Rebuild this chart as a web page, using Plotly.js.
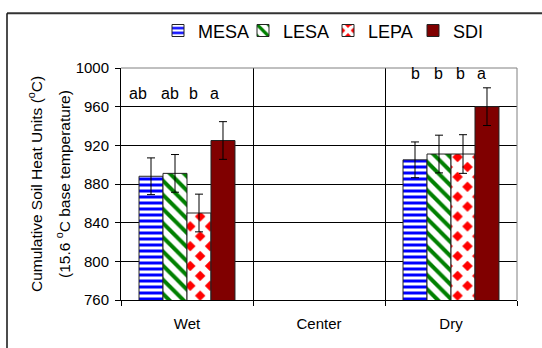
<!DOCTYPE html>
<html>
<head>
<meta charset="utf-8">
<script src="https://cdn.plot.ly/plotly-3.0.1.min.js"></script>
<style>
  html, body { margin: 0; padding: 0; background: #fff; }
  #chart { width: 542px; height: 348px; }
</style>
</head>
<body>
<div id="chart"></div>
<script>
// ---- data ----
var categories = ['Wet', 'Center', 'Dry'];
var seriesNames = ['MESA', 'LESA', 'LEPA', 'SDI'];
var mesaValues = [888, null, 905];
var lesaValues = [891, null, 911];
var lepaValues = [850, null, 911];
var sdiValues  = [925, null, 960];
var mesaErrors = [19, null, 18.5];
var lesaErrors = [19.5, null, 19.5];
var lepaErrors = [19.5, null, 20];
var sdiErrors  = [19.5, null, 19.5];
var lettersWet = ['ab', 'ab', 'b', 'a'];
var lettersDry = ['b', 'b', 'b', 'a'];
var yTickValues = [760, 800, 840, 880, 920, 960, 1000];

// ---- layout constants ----
var W = 542, H = 348;
var M = {l: 121, r: 25, t: 63, b: 48};
var pw = W - M.l - M.r, ph = H - M.t - M.b;
function px2x(p) { return (p - M.l) / pw; }
function px2y(p) { return (H - M.b - p) / ph; }
var bargap = 0.273;
var FONT = 'Arial, "Liberation Sans", sans-serif';

var values = [mesaValues, lesaValues, lepaValues, sdiValues];
var errors = [mesaErrors, lesaErrors, lepaErrors, sdiErrors];
var fills = [
  {color: '#0000ff', pattern: {shape: '-', fgcolor: '#0000ff', bgcolor: '#ffffff', size: 6, solidity: 0.5}},
  {color: '#008000', pattern: {shape: '\\', fgcolor: '#008000', bgcolor: '#ffffff', size: 10, solidity: 0.4}},
  {color: '#ff0000', pattern: {shape: 'x', fgcolor: '#ffffff', bgcolor: '#ff0000', size: 14, solidity: 0.72}},
  {color: '#800000', pattern: null}
];

var traces = seriesNames.map(function (name, i) {
  var marker = {color: fills[i].color, line: {color: '#222222', width: 1}};
  if (fills[i].pattern) marker.pattern = fills[i].pattern;
  return {
    type: 'bar',
    name: name,
    x: categories,
    y: values[i],
    marker: marker,
    error_y: {type: 'data', array: errors[i], visible: true, color: '#000000', thickness: 1, width: 4}
  };
});

// letter annotations placed over bars
var groupW = 1 - bargap, barW = groupW / seriesNames.length;
function barCenter(catIdx, i) { return catIdx - groupW / 2 + barW * (i + 0.5); }
var letterGroups = [
  {cat: 0, letters: lettersWet, y: 970, shifts: [-13, -5, -6, -8]},
  {cat: 2, letters: lettersDry, y: 990, shifts: [0, -1, -3, -5]}
];
var annotations = [];
letterGroups.forEach(function (g) {
  g.letters.forEach(function (t, i) {
    annotations.push({
      x: barCenter(g.cat, i), y: g.y, xref: 'x', yref: 'y', text: t,
      showarrow: false, xshift: g.shifts[i], yshift: 4, yanchor: 'middle',
      font: {family: FONT, size: 16, color: '#000'}
    });
  });
});
// y-axis title, two lines
annotations.push({
  x: px2x(35), y: 0.5, xref: 'paper', yref: 'paper', textangle: -90, showarrow: false,
  text: 'Cumulative Soil Heat Units (<sup>o</sup>C)', xanchor: 'center', yanchor: 'middle',
  font: {family: FONT, size: 15.5, color: '#000'}
});
annotations.push({
  x: px2x(63), y: 0.5, xref: 'paper', yref: 'paper', textangle: -90, showarrow: false,
  text: '(15.6 <sup>o</sup>C base temperature)', xanchor: 'center', yanchor: 'middle',
  font: {family: FONT, size: 15.5, color: '#000'}
});

var layout = {
  width: W, height: H,
  margin: M,
  paper_bgcolor: '#ffffff', plot_bgcolor: '#ffffff',
  font: {family: FONT, size: 15, color: '#000'},
  barmode: 'group', bargap: bargap, bargroupgap: 0,
  showlegend: true,
  legend: {
    orientation: 'h', x: px2x(328), xanchor: 'center', y: px2y(25), yanchor: 'middle',
    font: {family: FONT, size: 18, color: '#000'},
    itemwidth: 30, entrywidth: 40, traceorder: 'normal', bgcolor: 'rgba(0,0,0,0)'
  },
  xaxis: {
    type: 'category', range: [-0.5, 2.5], tickson: 'boundaries',
    showgrid: true, gridcolor: '#000000', gridwidth: 1,
    showline: true, linecolor: '#000000', linewidth: 1,
    ticks: 'outside', ticklen: 5, tickcolor: '#000000',
    tickfont: {family: FONT, size: 15, color: '#000'}, ticklabelstandoff: 10,
    fixedrange: true, zeroline: false
  },
  yaxis: {
    range: [760, 1000], tickvals: yTickValues, ticktext: yTickValues.map(String),
    showgrid: true, gridcolor: '#000000', gridwidth: 1,
    showline: true, linecolor: '#000000', linewidth: 1,
    ticks: 'outside', ticklen: 5, tickcolor: '#000000',
    tickfont: {family: FONT, size: 15, color: '#000'}, ticklabelstandoff: 3,
    zeroline: false, fixedrange: true
  },
  annotations: annotations,
  shapes: [
    {type: 'line', xref: 'paper', yref: 'paper', x0: 0, x1: 1, y0: 1, y1: 1, line: {color: '#808080', width: 1}, layer: 'above'},
    {type: 'line', xref: 'paper', yref: 'paper', x0: 1, x1: 1, y0: 0, y1: 1, line: {color: '#808080', width: 1}, layer: 'above'},
    {type: 'line', xref: 'paper', yref: 'paper', x0: px2x(7), x1: px2x(560), y0: px2y(7), y1: px2y(7), line: {color: '#333333', width: 2}},
    {type: 'line', xref: 'paper', yref: 'paper', x0: px2x(7), x1: px2x(7), y0: px2y(7), y1: px2y(360), line: {color: '#111111', width: 1.5}}
  ]
};

Plotly.newPlot('chart', traces, layout, {displayModeBar: false, staticPlot: true});
</script>
</body>
</html>
